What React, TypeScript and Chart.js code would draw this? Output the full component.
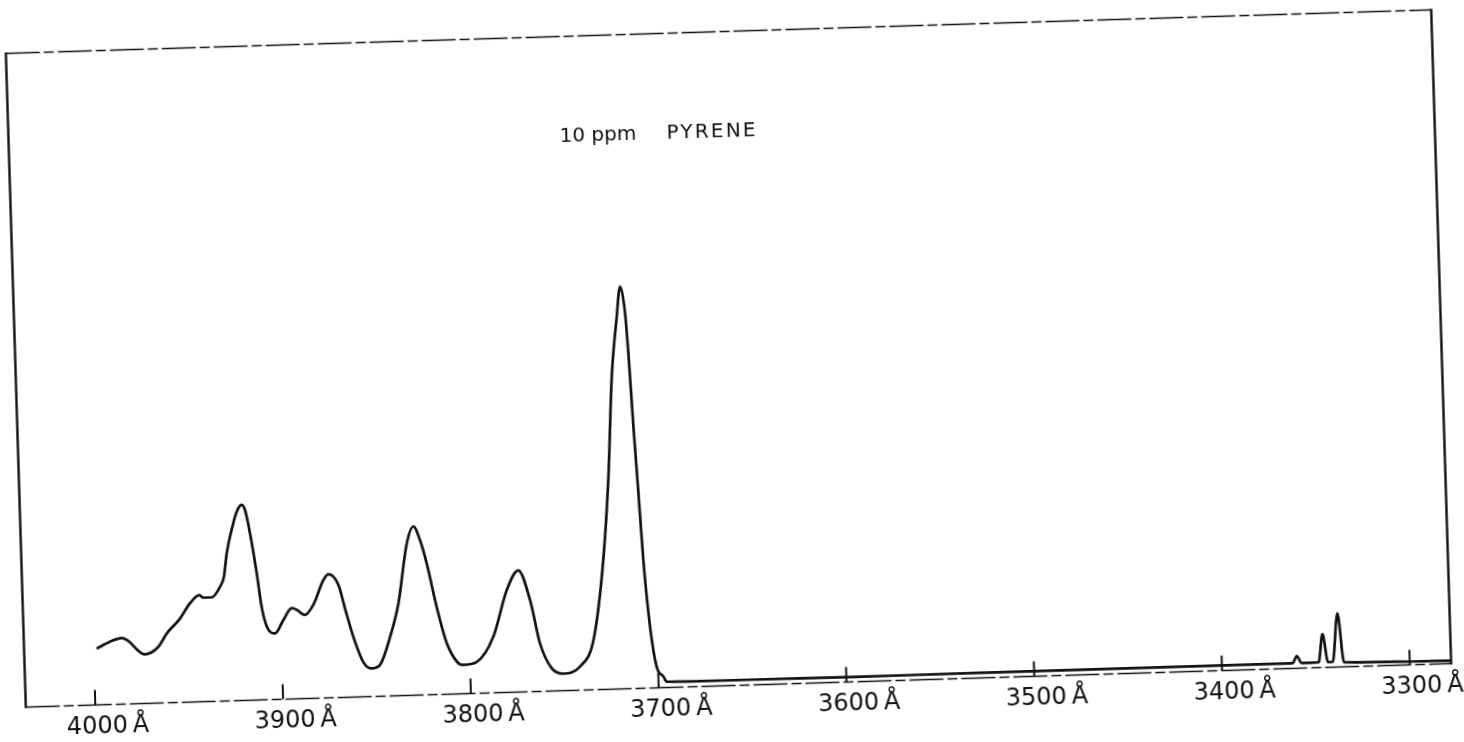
import React, { useEffect, useRef } from "react";
import { Chart, registerables } from "chart.js";

Chart.register(...registerables);

// Fluorescence spectrum of pyrene: wavelength (Å) and relative intensity
const wavelengths = [
  3998.4, 3991.2, 3984.9, 3982.2, 3972.8, 3965.5, 3960.8, 3953.6, 3948.0, 3942.9,
  3940.8, 3936.3, 3931.7, 3929.5, 3927.6, 3923.7, 3921.6, 3918.9, 3917.2, 3914.9,
  3912.0, 3909.9, 3907.5, 3903.2, 3898.6, 3893.9, 3891.3, 3887.0, 3882.4, 3876.7,
  3873.9, 3868.7, 3865.6, 3861.6, 3856.7, 3852.4, 3847.9, 3842.1, 3837.1, 3831.7,
  3827.9, 3824.6, 3821.4, 3816.8, 3812.0, 3806.2, 3803.6, 3796.4, 3787.1, 3779.3,
  3772.8, 3767.0, 3762.4, 3756.6, 3750.5, 3741.5, 3733.9, 3727.4, 3723.3, 3719.9,
  3716.3, 3714.0, 3711.8, 3710.7, 3709.2, 3707.6, 3706.1, 3703.6, 3700.7, 3697.3,
  3695.6, 3650, 3599, 3529, 3450, 3400, 3362.5, 3360, 3357.5, 3348.5,
  3346, 3343.5, 3341, 3337.7, 3335, 3320, 3300, 3278,
];
const intensity = [
  8.6, 9.6, 10.1, 9.8, 7.5, 8.6, 10.6, 12.8, 15.1, 16.3,
  15.9, 15.9, 17.5, 19.0, 22.6, 27.1, 28.9, 29.9, 29.1, 25.5,
  19.4, 14.2, 11.2, 10.1, 12.1, 13.9, 13.6, 12.8, 14.3, 18.0,
  18.9, 17.2, 13.6, 9.2, 5.3, 4.3, 4.8, 9.0, 14.1, 23.2,
  25.8, 23.7, 20.1, 13.4, 7.8, 4.7, 4.4, 4.8, 8.6, 15.6,
  18.6, 14.0, 7.3, 3.5, 2.6, 3.6, 7.6, 19.8, 32.5, 47.8,
  56.9, 61.5, 57.4, 51.3, 40.0, 29.8, 19.6, 9.4, 3.2, 1.7,
  0.9, 0.8, 0.75, 0.78, 0.78, 0.77, 0.77, 1.85, 0.77, 0.8,
  5.1, 0.8, 0.8, 8.2, 0.7, 0.6, 0.5, 0.45,
];
const tickValues = [4000, 3900, 3800, 3700, 3600, 3500, 3400, 3300];
const titleParts = ["10 ppm", "PYRENE"];

// Draws the plot frame, inward tick marks and the sample caption
const framePlugin = {
  id: "recorderFrame",
  afterDatasetsDraw(chart: any) {
    const { ctx, chartArea, scales } = chart;
    const { left, right, top, bottom } = chartArea;
    ctx.save();
    ctx.strokeStyle = "#111";
    ctx.lineCap = "butt";

    ctx.lineWidth = 2.4;
    ctx.beginPath();
    ctx.moveTo(left, top - 1);
    ctx.lineTo(left, bottom + 1);
    ctx.moveTo(right, top - 1);
    ctx.lineTo(right, bottom + 1);
    ctx.stroke();

    ctx.lineWidth = 1.6;
    ctx.setLineDash([34, 4, 10, 4]);
    ctx.beginPath();
    ctx.moveTo(left, top);
    ctx.lineTo(right, top);
    ctx.moveTo(left, bottom);
    ctx.lineTo(right, bottom);
    ctx.stroke();

    ctx.setLineDash([]);
    ctx.lineWidth = 2;
    ctx.beginPath();
    for (const t of scales.x.ticks) {
      const px = scales.x.getPixelForValue(t.value);
      ctx.moveTo(px, bottom);
      ctx.lineTo(px, bottom - 15);
    }
    ctx.stroke();

    ctx.fillStyle = "#111";
    ctx.font = "20px 'DejaVu Sans'";
    ctx.textBaseline = "alphabetic";
    ctx.textAlign = "left";
    ctx.fillText(titleParts[0], left + 551, top + 105.5);
    (ctx as any).letterSpacing = "2.2px";
    ctx.fillText(titleParts[1], left + 658, top + 105.5);
    ctx.restore();
  },
};

export default function App() {
  const ref = useRef<HTMLCanvasElement>(null);

  useEffect(() => {
    const chart = new Chart(ref.current as HTMLCanvasElement, {
      type: "line",
      data: {
        datasets: [
          {
            data: wavelengths.map((w, i) => ({ x: w, y: intensity[i] })),
            borderColor: "#111",
            borderWidth: 2.7,
            pointRadius: 0,
            fill: false,
            cubicInterpolationMode: "monotone",
          },
        ],
      },
      options: {
        responsive: false,
        animation: false,
        events: [],
        layout: { padding: { left: 15.5, right: 22.5, top: 31.5, bottom: 0 } },
        plugins: {
          legend: { display: false },
          tooltip: { enabled: false },
        },
        scales: {
          x: {
            type: "linear",
            min: 3278,
            max: 4037,
            reverse: true,
            afterBuildTicks: (s: any) => {
              s.ticks = tickValues.map((v) => ({ value: v }));
            },
            afterFit: (s: any) => {
              s.height = 56.5;
              s.paddingLeft = 0;
              s.paddingRight = 0;
            },
            grid: { display: false, drawTicks: false },
            border: { display: false },
            ticks: {
              callback: (v: any) => `${v}\u2009Å`,
              font: { family: "DejaVu Sans", size: 24 },
              color: "#111",
              padding: 8,
              labelOffset: 12,
              maxRotation: 0,
              autoSkip: false,
            },
          },
          y: { display: false, min: 0, max: 100 },
        },
      },
      plugins: [framePlugin],
    } as any);
    return () => chart.destroy();
  }, []);

  return (
    <div
      style={{
        position: "fixed",
        left: 0,
        top: 0,
        width: 1464,
        height: 742,
        overflow: "hidden",
        background: "#fff",
      }}
    >
      <canvas
        ref={ref}
        width={1464}
        height={742}
        style={{
          width: 1464,
          height: 742,
          display: "block",
          transform: "rotate(-1.75deg)",
          transformOrigin: "728.5px 358px",
        }}
      />
    </div>
  );
}
